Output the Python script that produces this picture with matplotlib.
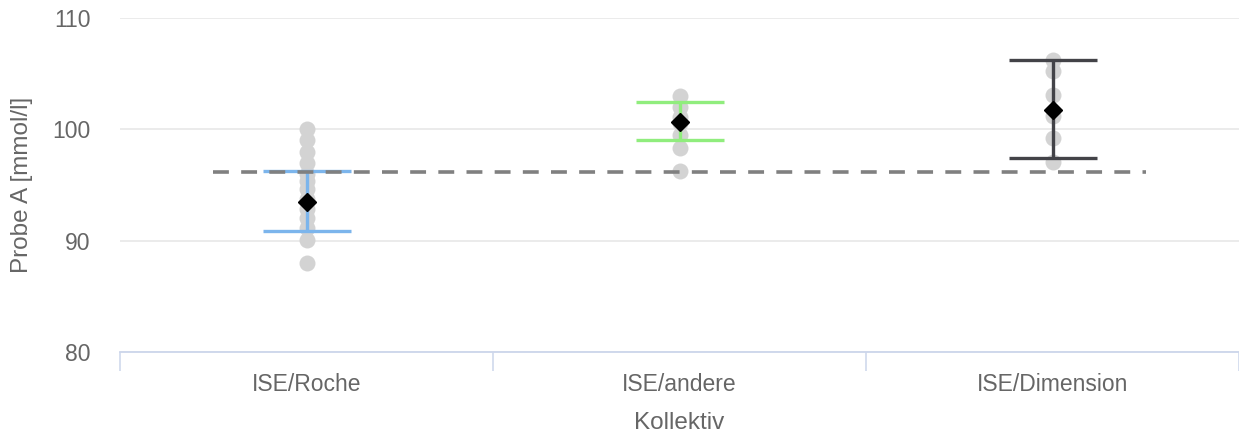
import matplotlib
matplotlib.use("Agg")
import matplotlib.pyplot as plt

plt.rcParams['font.family'] = ['Liberation Sans', 'DejaVu Sans']

categories = ["ISE/Roche", "ISE/andere", "ISE/Dimension"]
points_roche = [100, 99, 98, 97, 96, 95.4, 94.6, 93.7, 92.8, 92, 91.1, 90.1, 88]
points_andere = [103, 102, 101.1, 100.6, 99.5, 98.3, 96.3]
points_dimension = [106.2, 105.2, 103.1, 101.2, 99.2, 97.1]
means = [93.5, 100.66, 101.7]
lower = [90.9, 99.05, 97.4]
upper = [96.3, 102.45, 106.2]
colors = ["#7cb5ec", "#90ed7d", "#434348"]
ref_x = [-0.25, 2.25]
ref_y = [96.2, 96.2]
y_ticks = [80, 90, 100, 110]

fig = plt.figure(figsize=(12.39, 4.37), dpi=100)
ax = fig.add_axes([120/1239, 1-352/437, 1-120/1239, 334/437])

all_points = [points_roche, points_andere, points_dimension]
for i, pts in enumerate(all_points):
    ax.plot([i]*len(pts), pts, 'o', color='#d3d3d3', markersize=11.5,
            markeredgewidth=0, zorder=2, clip_on=False)

for i in range(len(categories)):
    ax.errorbar([i], [means[i]], yerr=[[means[i]-lower[i]], [upper[i]-means[i]]],
                fmt='none', ecolor=colors[i], elinewidth=2.4, capsize=32,
                capthick=2.4, zorder=3)

line, = ax.plot(ref_x, ref_y, color='#808080', linewidth=2.6, zorder=4)
line.set_dashes((4.4, 3.4))

ax.plot(range(len(categories)), means, 'D', color='black', markersize=9,
        linestyle='none', zorder=5)

ax.set_xlim(-0.5, 2.5)
ax.set_ylim(80, 110)
ax.set_yticks(y_ticks)
ax.set_xticks(range(len(categories)))
ax.set_xticklabels(categories)
ax.set_xticks([-0.5, 0.5, 1.5, 2.5], minor=True)

for s in ['top', 'right', 'left']:
    ax.spines[s].set_visible(False)
ax.spines['bottom'].set_color('#ccd6eb')
ax.spines['bottom'].set_linewidth(1.3)

ax.grid(axis='y', color='#e6e6e6', linewidth=1.1, zorder=0)
ax.set_axisbelow(True)

ax.tick_params(axis='y', length=0, pad=21, labelsize=16.5, labelcolor='#666666')
ax.tick_params(axis='x', which='major', length=0, pad=15, labelsize=16.5, labelcolor='#666666')
ax.tick_params(axis='x', which='minor', length=14, width=1.1, color='#ccd6eb')

ax.set_xlabel("Kollektiv", fontsize=17.5, color='#666666', va='center')
ax.xaxis.set_label_coords(0.5, (352 - 423) / 334)
ax.set_ylabel("Probe A [mmol/l]", fontsize=17.5, color='#666666', labelpad=14)

fig.savefig("out.png", dpi=100)
